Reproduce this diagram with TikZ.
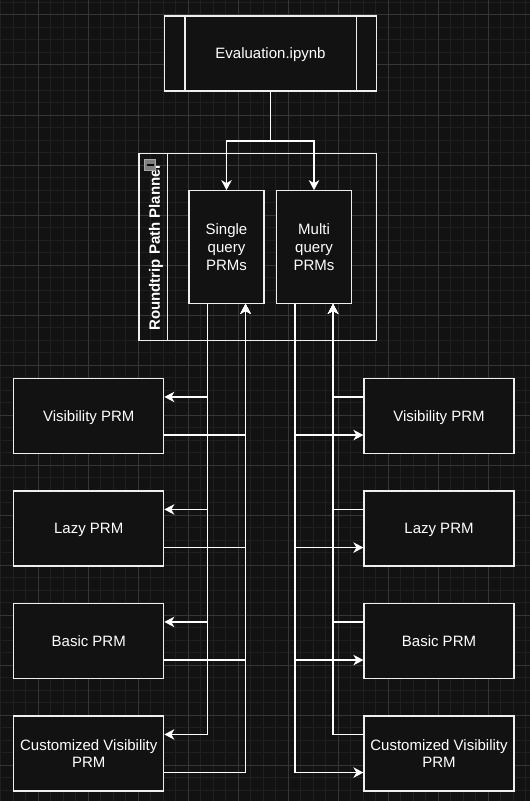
\documentclass[tikz,border=0pt]{standalone}
\usepackage{fontspec}
\setmainfont{Liberation Sans}
\usetikzlibrary{arrows.meta,calc}
\definecolor{bgc}{HTML}{121212}
\definecolor{gridminor}{HTML}{1F1F1F}
\definecolor{gridmajor}{HTML}{363636}
\definecolor{strokec}{HTML}{EEEEEE}
\definecolor{iconc}{HTML}{808080}
\tikzset{
  prmbox/.style={draw=strokec, fill=bgc, line width=1.25bp, text=white, align=center,
    inner sep=0pt, minimum width=150bp, minimum height=75bp, text depth=0pt,
    font=\fontsize{15bp}{17.7bp}\selectfont},
  conn/.style={draw=white, line width=1.25bp, -{Stealth[length=10bp,width=10.5bp,inset=3bp]}},
  plain/.style={draw=white, line width=1.25bp},
}
\begin{document}
\begin{tikzpicture}[x=1bp,y=-1bp]
\useasboundingbox (0,0) rectangle (530,801);
\fill[bgc] (0,0) rectangle (530,801);
% grid
\foreach \i in {0,...,42} \draw[gridminor, line width=1bp] ({0.8+12.5*\i},0) -- ++(0,801);
\foreach \j in {0,...,64} \draw[gridminor, line width=1bp] (0,{2.5+12.5*\j}) -- ++(530,0);
\foreach \i in {0,...,9} \draw[gridmajor, line width=1bp] ({38.3+50*\i},0) -- ++(0,801);
\foreach \j in {0,...,15} \draw[gridmajor, line width=1bp] (0,{15+50*\j}) -- ++(530,0);

% Evaluation process box
\node[prmbox, minimum width=212.5bp] (eval) at (270.5,53.5) {Evaluation.ipynb};
\draw[strokec, line width=1.25bp] ($(eval.north west)+(21.25,0)$) -- ($(eval.south west)+(21.25,0)$);
\draw[strokec, line width=1.25bp] ($(eval.north east)+(-21.25,0)$) -- ($(eval.south east)+(-21.25,0)$);

% container
\node[draw=strokec, line width=1.25bp, minimum width=237.5bp, minimum height=187.5bp, inner sep=0pt] (cont) at (257.75,247) {};
\draw[strokec, line width=1.25bp] ($(cont.north west)+(28.75,0)$) -- ($(cont.south west)+(28.75,0)$);
\node[rotate=90, text=white, text depth=0pt, font=\fontsize{15bp}{17.7bp}\selectfont\bfseries] (contlabel) at (154.5,247) {Roundtrip Path Planner};
\node[draw=gray!70, fill=iconc, line width=0.8bp, minimum width=11bp, minimum height=10.5bp, inner sep=0pt] (icon) at (150.2,164.8) {};
\draw[bgc!60!black, line width=1.6bp] ($(icon.west)+(2.5,0)$) -- ($(icon.east)+(-2.5,0)$);

% single / multi
\node[prmbox, minimum width=75bp, minimum height=112.5bp] (single) at (226.5,247) {Single\\query\\PRMs};
\node[prmbox, minimum width=75bp, minimum height=112.5bp] (multi) at (314,247) {Multi\\query\\PRMs};

% left boxes
\node[prmbox] (lv) at (88.75,416) {Visibility PRM};
\node[prmbox] (ll) at (88.75,528.5) {Lazy PRM};
\node[prmbox] (lb) at (88.75,641) {Basic PRM};
\node[prmbox] (lc) at (88.75,753.5) {Customized Visibility\\PRM};
% right boxes
\node[prmbox] (rv) at (439,416) {Visibility PRM};
\node[prmbox] (rl) at (439,528.5) {Lazy PRM};
\node[prmbox] (rb) at (439,641) {Basic PRM};
\node[prmbox] (rc) at (439,753.5) {Customized Visibility\\PRM};

% eval -> single/multi
\coordinate (split) at ($(eval.south)!0.5!(eval.south |- single.north)$);
\draw[plain] (eval.south) -- (split);
\draw[conn] (split) -| (single.north);
\draw[conn] (split) -| (multi.north);

% single ports
\coordinate (sout) at ($(single.south west)!0.25!(single.south east)$);
\coordinate (sin) at ($(single.south west)!0.75!(single.south east)$);
\coordinate (mout) at ($(multi.south west)!0.25!(multi.south east)$);
\coordinate (min) at ($(multi.south west)!0.75!(multi.south east)$);

\foreach \b in {lv,ll,lb,lc} {
  \draw[conn] (sout) |- ($(\b.north east)!0.25!(\b.south east)$);
  \draw[conn] ($(\b.north east)!0.75!(\b.south east)$) -| (sin);
}
\foreach \b in {rv,rl,rb,rc} {
  \draw[conn] (mout) |- ($(\b.north west)!0.75!(\b.south west)$);
  \draw[conn] ($(\b.north west)!0.25!(\b.south west)$) -| (min);
}
\end{tikzpicture}
\end{document}
